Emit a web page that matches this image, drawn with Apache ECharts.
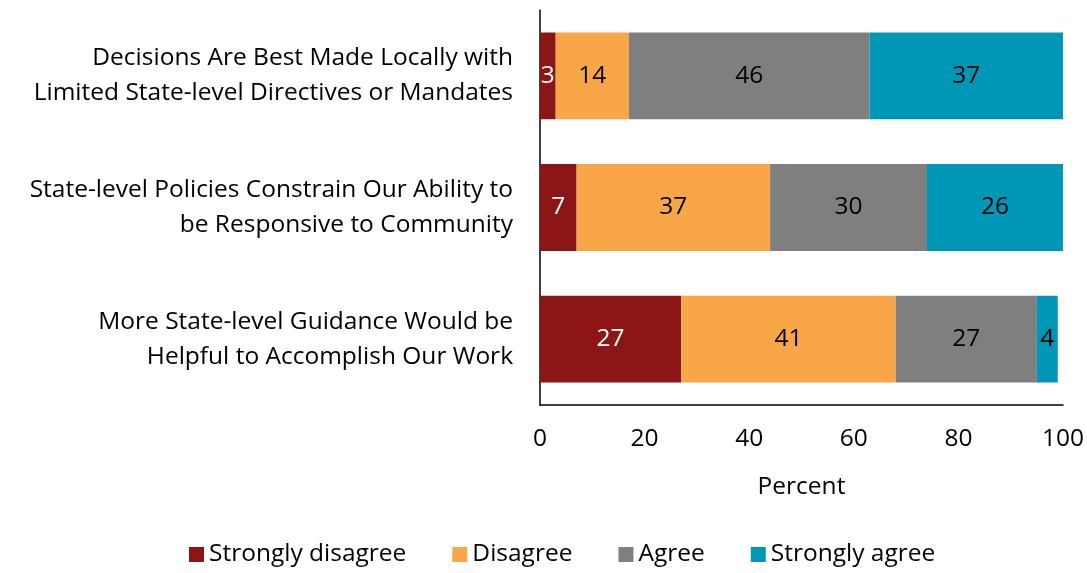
<!DOCTYPE html>
<html>
<head>
<meta charset="utf-8">
<script src="https://cdn.jsdelivr.net/npm/echarts@6/dist/echarts.min.js"></script>
<style>
  html, body { margin: 0; padding: 0; background: #fff; }
  #chart { width: 1087px; height: 573px; }
</style>
</head>
<body>
<div id="chart"></div>
<script>
// Survey statements (top to bottom)
const categories = [
  'Decisions Are Best Made Locally with\nLimited State-level Directives or Mandates',
  'State-level Policies Constrain Our Ability to\nbe Responsive to Community',
  'More State-level Guidance Would be\nHelpful to Accomplish Our Work'
];
// Percent of respondents per response
const stronglyDisagree = [3, 7, 27];
const disagree = [14, 37, 41];
const agree = [46, 30, 27];
const stronglyAgree = [37, 26, 4];
const xTicks = [0, 20, 40, 60, 80, 100];

const FONT = 'Open Sans';
const FS = 24.5;
const seriesDefs = [
  { name: 'Strongly disagree', data: stronglyDisagree, color: '#8C1515', text: '#ffffff' },
  { name: 'Disagree', data: disagree, color: '#F9A648', text: '#000000' },
  { name: 'Agree', data: agree, color: '#7F7F7F', text: '#000000' },
  { name: 'Strongly agree', data: stronglyAgree, color: '#0096B6', text: '#000000' }
];

const chart = echarts.init(document.getElementById('chart'));
chart.setOption({
  animation: false,
  textStyle: { fontFamily: FONT },
  grid: { left: 540, right: 24, top: 10, bottom: 168, containLabel: false },
  xAxis: {
    type: 'value',
    min: xTicks[0],
    max: xTicks[xTicks.length - 1],
    interval: 20,
    name: 'Percent',
    nameLocation: 'middle',
    nameGap: 70,
    nameTextStyle: { fontSize: FS, color: '#000', fontFamily: FONT },
    axisLine: { show: true, lineStyle: { color: '#000', width: 1.5 } },
    axisTick: { show: false },
    splitLine: { show: false },
    axisLabel: { fontSize: FS, color: '#000', margin: 22, fontFamily: FONT }
  },
  yAxis: {
    type: 'category',
    inverse: true,
    data: categories,
    axisLine: { show: true, lineStyle: { color: '#000', width: 1.5 } },
    axisTick: { show: false },
    axisLabel: {
      fontSize: FS, color: '#000', margin: 27, align: 'right',
      lineHeight: 35, fontFamily: FONT
    }
  },
  legend: {
    bottom: 1,
    left: 184,
    itemWidth: 15,
    itemHeight: 15,
    itemGap: 46,
    icon: 'rect',
    textStyle: { fontSize: FS, color: '#000', fontFamily: FONT },
    data: seriesDefs.map(s => s.name)
  },
  series: seriesDefs.map(s => ({
    name: s.name,
    type: 'bar',
    stack: 'total',
    barWidth: '66%',
    data: s.data,
    itemStyle: { color: s.color },
    label: {
      show: true,
      position: 'inside',
      color: s.text,
      fontSize: FS,
      fontFamily: FONT,
      formatter: p => String(p.value)
    }
  }))
});
</script>
</body>
</html>
